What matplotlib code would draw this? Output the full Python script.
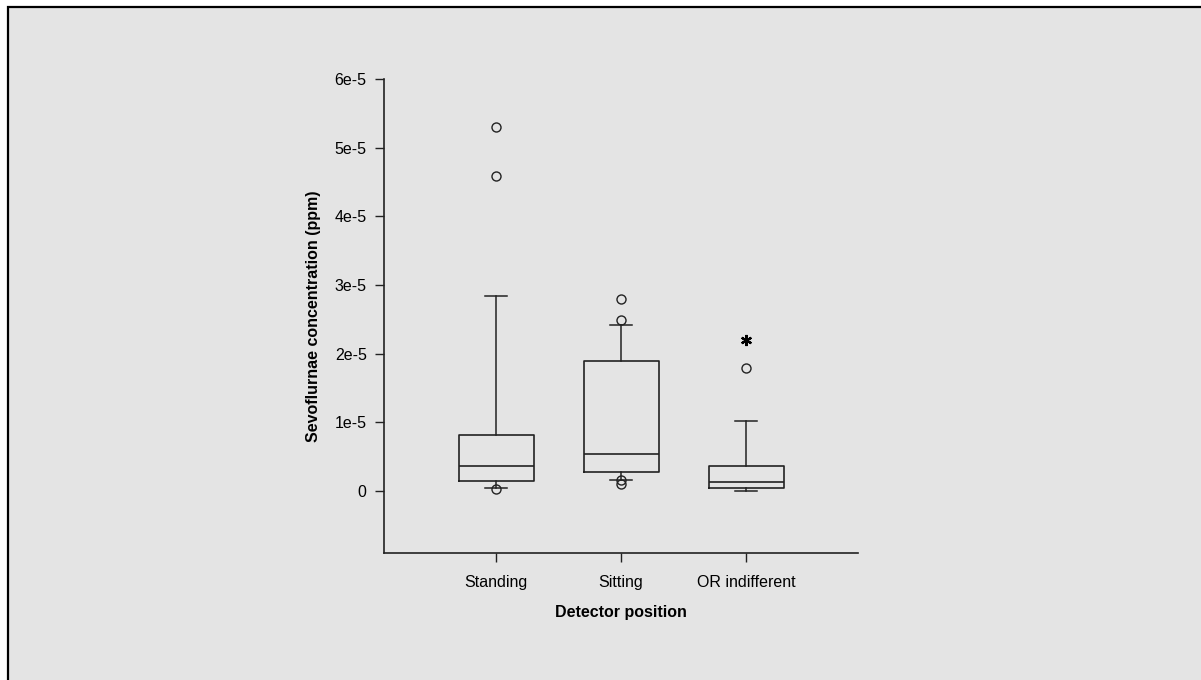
import matplotlib
matplotlib.use("Agg")
import matplotlib.pyplot as plt
from matplotlib.patches import Rectangle
from matplotlib.ticker import FixedLocator, FixedFormatter

plt.rcParams['font.family'] = ['Liberation Sans', 'DejaVu Sans']

# ---- data (units of 1e-5 ppm) ----
categories = ["Standing", "Sitting", "OR indifferent"]
q1 = [0.146, 0.28, 0.04]
medians = [0.364, 0.54, 0.13]
q3 = [0.815, 1.89, 0.36]
whisker_low = [0.044, 0.16, 0.0]
whisker_high = [2.84, 2.42, 1.02]
outliers = [[5.30, 4.59, 0.03], [2.79, 2.49, 0.16, 0.10], [1.79]]
extreme_outliers = [[], [], [2.20]]
scale = 1e-5
y_ticks = [0, 1, 2, 3, 4, 5, 6]
y_tick_labels = ["0", "1e-5", "2e-5", "3e-5", "4e-5", "5e-5", "6e-5"]

W, H = 1201, 680
fig = plt.figure(figsize=(W / 100, H / 100), dpi=100, facecolor="white")

# background panel with border on top/left
bg = Rectangle((8 / W, -0.05), 1.2, 1 - 7 / H + 0.05, transform=fig.transFigure,
               facecolor="#e4e4e4", edgecolor="black", linewidth=1.6, zorder=-10)
fig.add_artist(bg)

ax = fig.add_axes([384 / W, 1 - 553 / H, (858 - 384) / W, (553 - 79) / H])
ax.set_zorder(5)
ax.set_facecolor("none")

positions = [1, 2, 3]
stats = []
for i, name in enumerate(categories):
    stats.append(dict(label=name, q1=q1[i] * scale, med=medians[i] * scale, q3=q3[i] * scale,
                      whislo=whisker_low[i] * scale, whishi=whisker_high[i] * scale,
                      fliers=[v * scale for v in outliers[i]]))

line_col = "#222222"
ax.bxp(stats, positions=positions, widths=0.6, capwidths=[0.18] * 3,
       boxprops=dict(color=line_col, linewidth=1.2),
       medianprops=dict(color=line_col, linewidth=1.2),
       whiskerprops=dict(color=line_col, linewidth=1.1),
       capprops=dict(color=line_col, linewidth=1.1),
       flierprops=dict(marker="o", markersize=6.5, markerfacecolor="none",
                       markeredgecolor=line_col, markeredgewidth=1.0, linestyle="none"))

for i, ext in enumerate(extreme_outliers):
    if ext:
        ax.plot([positions[i]] * len(ext), [v * scale for v in ext], linestyle="none",
                marker=(6, 2, 0), markersize=8, markeredgewidth=1.6, color="black")

ax.set_xlim(0.104, 3.896)
ax.set_ylim(-0.903e-5, 6e-5)
ax.yaxis.set_major_locator(FixedLocator([t * scale for t in y_ticks]))
ax.yaxis.set_major_formatter(FixedFormatter(y_tick_labels))
ax.set_xticks(positions)
ax.set_xticklabels(categories)

for s in ["top", "right"]:
    ax.spines[s].set_visible(False)
for s in ["left", "bottom"]:
    ax.spines[s].set_color(line_col)
    ax.spines[s].set_linewidth(1.2)

ax.tick_params(axis="both", direction="out", length=6.5, width=1.0, color=line_col,
               labelsize=11.5, labelcolor="black", pad=6)
ax.tick_params(axis="x", pad=9)

ax.set_xlabel("Detector position", fontsize=11.5, fontweight="bold", labelpad=11)
ax.set_ylabel("Sevoflurnae concentration (ppm)", fontsize=11.5, fontweight="bold", labelpad=10)

fig.savefig("out.png", dpi=100, facecolor=fig.get_facecolor())
